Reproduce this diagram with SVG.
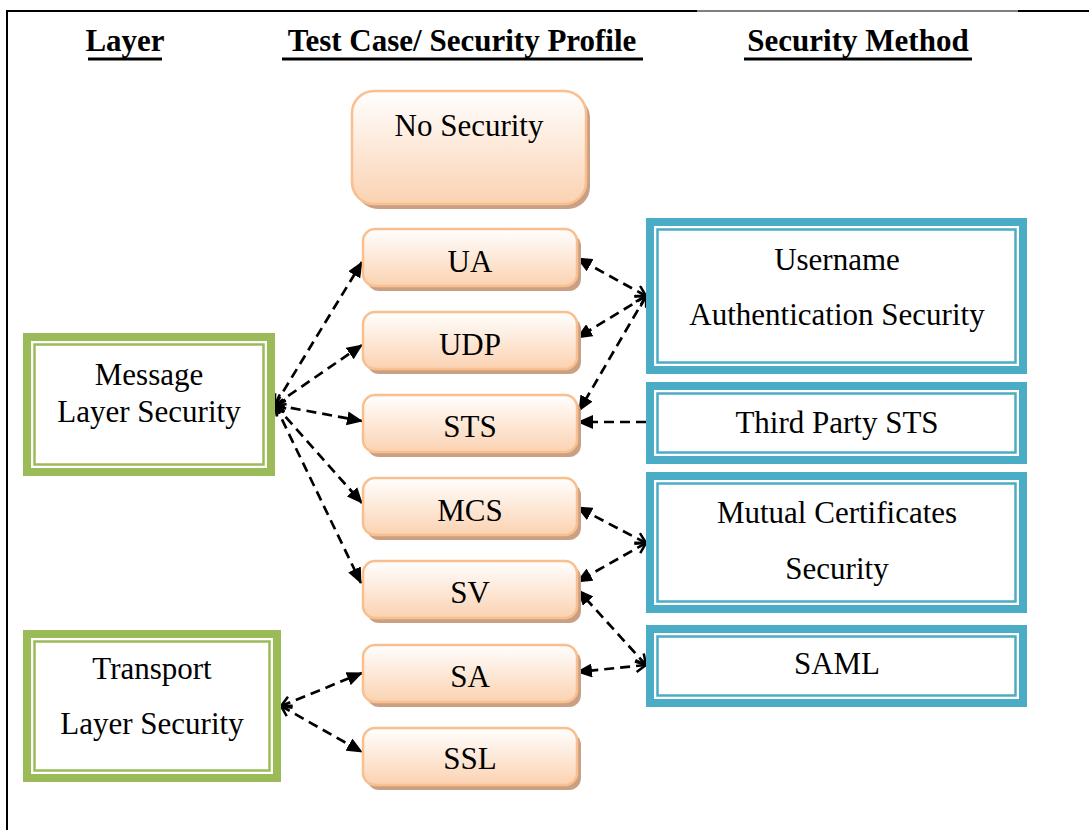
<svg xmlns="http://www.w3.org/2000/svg" width="1089" height="830" viewBox="0 0 1089 830">
  <defs>
    <linearGradient id="peach" x1="0" y1="0" x2="0" y2="1">
      <stop offset="0" stop-color="#FFFFFF"/>
      <stop offset="1" stop-color="#FBD2B1"/>
    </linearGradient>
    <marker id="head" viewBox="0 0 16 14" refX="15" refY="7" markerWidth="16" markerHeight="14" markerUnits="userSpaceOnUse" orient="auto">
      <path d="M0,0 L16,7 L0,14 z" fill="#000"/>
    </marker>
    <marker id="tail" viewBox="0 0 12 14" refX="11" refY="7" markerWidth="12" markerHeight="14" markerUnits="userSpaceOnUse" orient="auto-start-reverse">
      <path d="M1,1 L11,7 L1,13" fill="none" stroke="#000" stroke-width="2.5"/>
    </marker>
  </defs>
  <style>
    text { font-family: "Liberation Serif", "Times New Roman", serif; fill: #000; }
    .hdr { font-size: 31px; font-weight: bold; text-anchor: middle; }
    .ul { stroke: #000; stroke-width: 3; }
    .lbl { font-size: 31px; text-anchor: middle; }
    .shadow { fill: #C9A084; }
    .pill { fill: url(#peach); stroke: #F9BF8E; stroke-width: 2.5; }
    .band-g { fill: #9BBB59; }
    .band-b { fill: #4BACC6; }
    .core { fill: #FFFFFF; }
    .rule-g { fill: none; stroke: #9BBB59; stroke-width: 2.5; }
    .rule-b { fill: none; stroke: #4BACC6; stroke-width: 2.5; }
    .link { fill: none; stroke: #000; stroke-width: 2.7; stroke-dasharray: 10 6; marker-end: url(#head); }
    .both { marker-start: url(#tail); }
  </style>

  <!-- page frame -->
  <g id="frame">
    <line x1="7" y1="11" x2="7" y2="830" stroke="#000" stroke-width="2"/>
    <line x1="6" y1="11" x2="697" y2="11" stroke="#000" stroke-width="2"/>
    <line x1="697" y1="11" x2="1018" y2="11" stroke="#000" stroke-width="1"/>
    <line x1="1018" y1="11" x2="1089" y2="11" stroke="#000" stroke-width="2"/>
  </g>

  <!-- column headings -->
  <g id="headings">
    <text class="hdr" x="125" y="51">Layer</text>
    <line class="ul" x1="88" y1="59" x2="162" y2="59"/>
    <text class="hdr" x="462" y="51">Test Case/ Security Profile</text>
    <line class="ul" x1="282" y1="59" x2="643" y2="59"/>
    <text class="hdr" x="858" y="51">Security Method</text>
    <line class="ul" x1="744" y1="59" x2="972" y2="59"/>
  </g>

  <!-- connectors -->
  <g id="connectors">
    <path class="link both" d="M275,405 L362,262"/>
    <path class="link both" d="M275,405 L362,345"/>
    <path class="link both" d="M275,405 L362,421"/>
    <path class="link both" d="M275,405 L362,503"/>
    <path class="link both" d="M275,405 L361,583"/>

    <path class="link both" d="M646,296 L577,258"/>
    <path class="link both" d="M646,296 L577,338"/>
    <path class="link both" d="M646,296 L579,411"/>
    <path class="link" d="M646,422 L578,422"/>
    <path class="link both" d="M646,543 L577,507"/>
    <path class="link both" d="M646,543 L577,582"/>
    <path class="link both" d="M646,665 L578,590"/>
    <path class="link both" d="M646,665 L577,672"/>

    <path class="link both" d="M281,706 L362,673"/>
    <path class="link both" d="M281,706 L362,752"/>
  </g>

  <!-- security profiles -->
  <g id="no-security">
    <rect class="shadow" x="356" y="96" width="234" height="113" rx="22"/>
    <rect class="pill" x="352" y="91" width="234" height="113" rx="22"/>
    <text class="lbl" x="469" y="136">No Security</text>
  </g>
  <g id="ua">
    <rect class="shadow" x="367" y="234" width="214" height="57" rx="12"/>
    <rect class="pill" x="363" y="229" width="214" height="57" rx="12"/>
    <text class="lbl" x="470" y="272">UA</text>
  </g>
  <g id="udp">
    <rect class="shadow" x="367" y="317" width="214" height="57" rx="12"/>
    <rect class="pill" x="363" y="312" width="214" height="57" rx="12"/>
    <text class="lbl" x="470" y="355">UDP</text>
  </g>
  <g id="sts">
    <rect class="shadow" x="367" y="400" width="214" height="57" rx="12"/>
    <rect class="pill" x="363" y="395" width="214" height="57" rx="12"/>
    <text class="lbl" x="470" y="437">STS</text>
  </g>
  <g id="mcs">
    <rect class="shadow" x="367" y="483" width="214" height="57" rx="12"/>
    <rect class="pill" x="363" y="478" width="214" height="57" rx="12"/>
    <text class="lbl" x="470" y="521">MCS</text>
  </g>
  <g id="sv">
    <rect class="shadow" x="367" y="566" width="214" height="57" rx="12"/>
    <rect class="pill" x="363" y="561" width="214" height="57" rx="12"/>
    <text class="lbl" x="470" y="603">SV</text>
  </g>
  <g id="sa">
    <rect class="shadow" x="367" y="650" width="214" height="57" rx="12"/>
    <rect class="pill" x="363" y="645" width="214" height="57" rx="12"/>
    <text class="lbl" x="470" y="687">SA</text>
  </g>
  <g id="ssl">
    <rect class="shadow" x="367" y="733" width="214" height="57" rx="12"/>
    <rect class="pill" x="363" y="728" width="214" height="57" rx="12"/>
    <text class="lbl" x="470" y="769">SSL</text>
  </g>

  <!-- layers -->
  <g id="message-layer">
    <rect class="band-g" x="23" y="333" width="252" height="143"/>
    <rect class="core" x="31" y="341" width="236" height="127"/>
    <rect class="rule-g" x="34.5" y="344.5" width="229" height="120"/>
    <text class="lbl" x="149" y="385">Message</text>
    <text class="lbl" x="149" y="422">Layer Security</text>
  </g>
  <g id="transport-layer">
    <rect class="band-g" x="23" y="630" width="258" height="152"/>
    <rect class="core" x="31" y="638" width="242" height="136"/>
    <rect class="rule-g" x="34.5" y="641.5" width="235" height="129"/>
    <text class="lbl" x="152" y="679">Transport</text>
    <text class="lbl" x="152" y="734">Layer Security</text>
  </g>

  <!-- security methods -->
  <g id="username">
    <rect class="band-b" x="646" y="218" width="381" height="156"/>
    <rect class="core" x="654" y="226" width="365" height="140"/>
    <rect class="rule-b" x="657.5" y="229.5" width="358" height="133"/>
    <text class="lbl" x="837" y="270">Username</text>
    <text class="lbl" x="837" y="325">Authentication Security</text>
  </g>
  <g id="third-party-sts">
    <rect class="band-b" x="646" y="382" width="381" height="82"/>
    <rect class="core" x="654" y="390" width="365" height="66"/>
    <rect class="rule-b" x="657.5" y="393.5" width="358" height="59"/>
    <text class="lbl" x="837" y="433">Third Party STS</text>
  </g>
  <g id="mutual-certificates">
    <rect class="band-b" x="646" y="472" width="381" height="141"/>
    <rect class="core" x="654" y="480" width="365" height="125"/>
    <rect class="rule-b" x="657.5" y="483.5" width="358" height="118"/>
    <text class="lbl" x="837" y="523">Mutual Certificates</text>
    <text class="lbl" x="837" y="579">Security</text>
  </g>
  <g id="saml">
    <rect class="band-b" x="646" y="625" width="381" height="82"/>
    <rect class="core" x="654" y="633" width="365" height="66"/>
    <rect class="rule-b" x="657.5" y="636.5" width="358" height="59"/>
    <text class="lbl" x="837" y="674">SAML</text>
  </g>
</svg>
